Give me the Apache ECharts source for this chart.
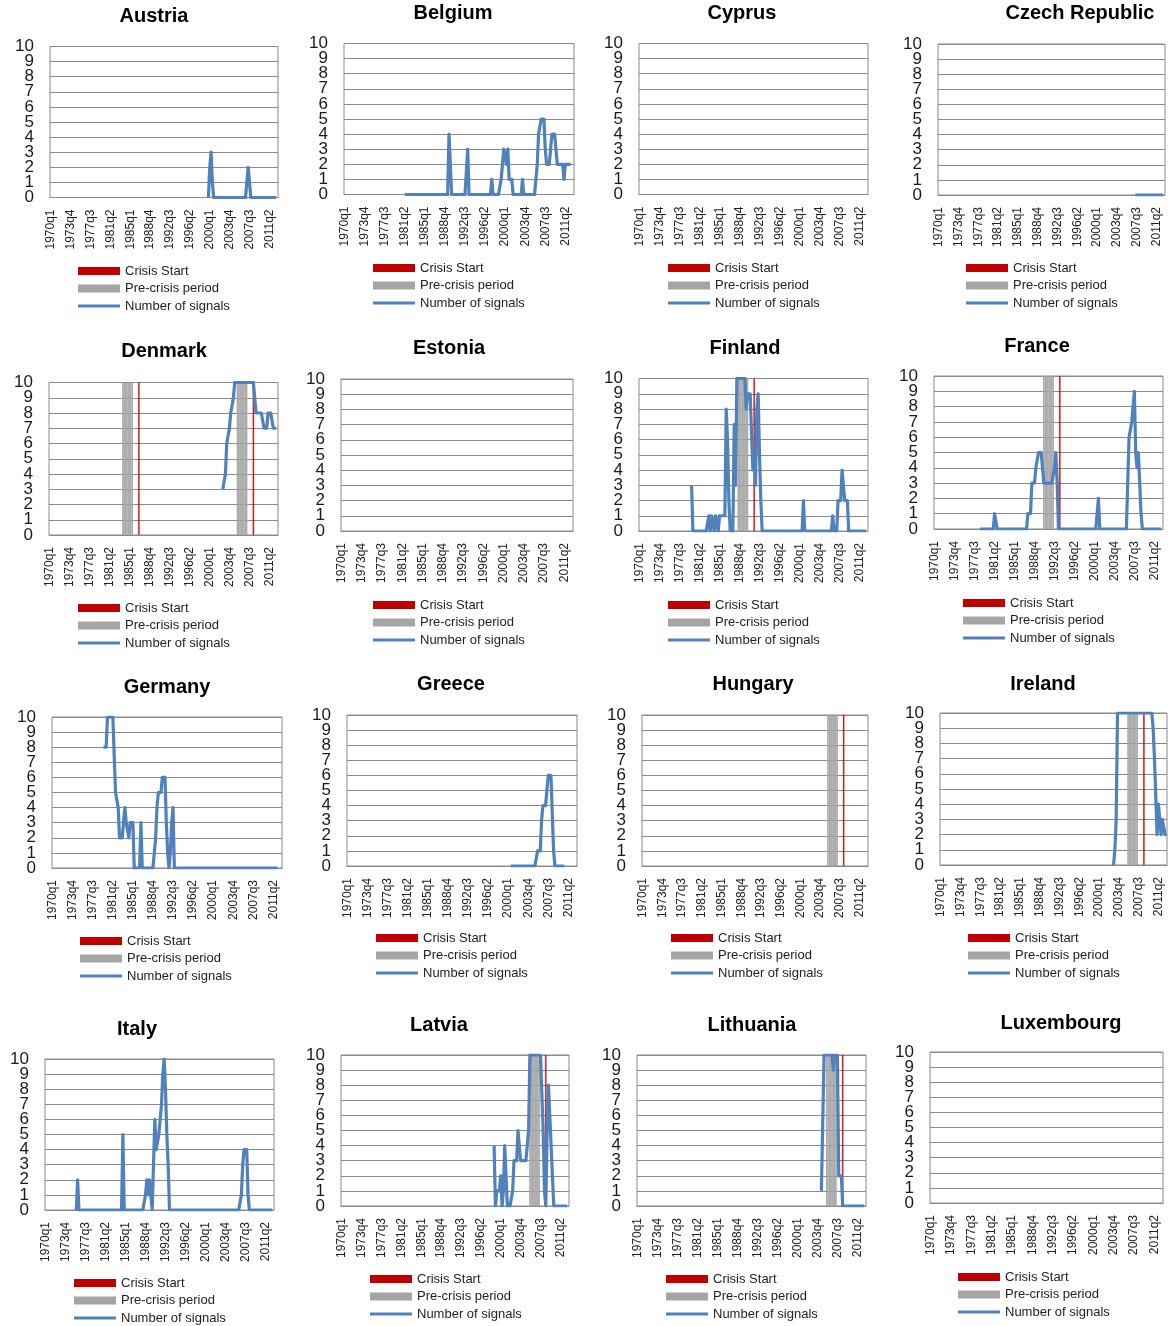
<!DOCTYPE html>
<html><head><meta charset="utf-8">
<script src="https://cdn.jsdelivr.net/npm/echarts@6/dist/echarts.min.js"></script>
<style>html,body{margin:0;padding:0;background:#fff}#c{width:1173px;height:1326px}</style>
</head><body><div id="c"></div>
<script>
// ---------- categories (quarters 1970q1 .. 2012q4) ----------
const years = [];
for (let y = 1970; y <= 2012; y++) years.push(y);
const quarters = [];
years.forEach(y => [1, 2, 3, 4].forEach(q => quarters.push(y + 'q' + q)));

const countries = ['Austria','Belgium','Cyprus','Czech Republic','Denmark','Estonia','Finland','France',
  'Germany','Greece','Hungary','Ireland','Italy','Latvia','Lithuania','Luxembourg'];
const legendNames = ['Crisis Start', 'Pre-crisis period', 'Number of signals'];
const yTicks = [0,1,2,3,4,5,6,7,8,9,10];

// ---------- number of signals (one row per year, starting at <country>Start) ----------
const austriaStart = '1999q1';
const austriaSignals = [
  null,null,null,0, 2,3,1,0, 0,0,0,0, 0,0,0,0, 0,0,0,0, 0,0,0,0, 0,0,0,0, 0,0,0,0,
  0,2,2,0, 0,0,0,0, 0,0,0,0, 0,0,0,0, 0,0,0,0, 0,0,0];
const belgiumStart = '1981q1';
const belgiumSignals = [
  null,0,0,0, 0,0,0,0, 0,0,0,0, 0,0,0,0, 0,0,0,0, 0,0,0,0, 0,0,0,0, 0,0,0,0,
  0,0,4,4, 0,0,0,0, 0,0,0,0, 0,0,0,0, 3,0,0,0, 0,0,0,0, 0,0,0,0, 0,0,0,0,
  0,0,1,0, 0,0,0,0, 0,1,2,3, 3,2,3,1, 1,1,0,0, 0,0,0,0, 0,1,0,0, 0,0,0,0,
  0,0,0,0, 2,4,4,5, 5,5,3,2, 2,2,3,4, 4,4,3,2, 2,2,2,2, 1,2,2,2, 2,2];
const czechStart = '2007q1';
const czechSignals = [
  null,0,0,0, 0,0,0,0, 0,0,0,0, 0,0,0,0, 0,0,0,0, 0,0,0];
const denmarkStart = '2002q1';
const denmarkSignals = [
  null,null,3,3, 4,6,6,7, 8,8,9,10, 10,10,10,10, 10,10,10,10, 10,10,10,10,
  10,10,10,8, 8,8,8,8, 8,7,7,7, 8,8,8,8, 7,7,7];
const finlandStart = '1979q1';
const finlandSignals = [
  null,null,null,3, 0,0,0,0, 0,0,0,0, 0,0,0,0, 1,0,1,1, 0,1,1,0, 1,1,1,1,
  1,8,6,2, 0,0,0,7, 3,10,10,10, 10,10,10,10, 8,9,9,9, 9,4,5,3, 8,9,5,2,
  0,0,0,0, 0,0,0,0, 0,0,0,0, 0,0,0,0, 0,0,0,0, 0,0,0,0, 0,0,0,0,
  0,0,0,2, 0,0,0,0, 0,0,0,0, 0,0,0,0, 0,0,0,0, 0,0,0,0,
  0,1,0,0, 0,2,2,2, 4,4,2,2, 2,0,0,0, 0,0,0,0, 0,0,0,0, 0,0,0];
const franceStart = '1978q1';
const franceSignals = [
  null,null,0,0, 0,0,0,0, 0,0,0,0, 0,1,1,0, 0,0,0,0, 0,0,0,0, 0,0,0,0, 0,0,0,0,
  0,0,0,0, 0,0,1,1, 1,3,3,3, 4,4,5,5, 5,5,3,3, 3,3,3,3, 3,3,4,5, 3,0,0,0,
  0,0,0,0, 0,0,0,0, 0,0,0,0, 0,0,0,0, 0,0,0,0, 0,0,0,0, 0,0,0,2,
  0,0,0,0, 0,0,0,0, 0,0,0,0, 0,0,0,0, 0,0,0,0,
  0,0,6,6, 7,8,9,5, 4,5,5,1, 0,0,0,0, 0,0,0,0, 0,0,0,0, 0,0,0];
const germanyStart = '1979q1';
const germanySignals = [
  null,null,8,8, 8,10,10,10, 10,10,10,5, 5,4,2,2, 2,3,4,3, 3,2,3,3, 3,0,0,0,
  0,0,3,0, 0,0,0,0, 0,0,0,0, 0,2,4,5, 5,5,6,6, 6,3,1,0, 1,3,4,0,
  0,0,0,0, 0,0,0,0, 0,0,0,0, 0,0,0,0, 0,0,0,0, 0,0,0,0, 0,0,0,0,
  0,0,0,0, 0,0,0,0, 0,0,0,0, 0,0,0,0, 0,0,0,0, 0,0,0,0, 0,0,0,0,
  0,0,0,0, 0,0,0,0, 0,0,0,0, 0,0,0,0, 0,0,0,0, 0];
const greeceStart = '2000q1';
const greeceSignals = [
  null,null,0,0, 0,0,0,0, 0,0,0,0, 0,0,0,0, 0,0,0,0, 0,0,1,1,
  1,3,4,4, 4,4,6,6, 6,6,1,0, 0,0,0,0, 0,0,0];
const irelandStart = '2002q1';
const irelandSignals = [
  null,null,null,0, 1,3,10,10, 10,10,10,10, 10,10,10,10, 10,10,10,10, 10,10,10,10,
  10,10,10,10, 10,10,10,10, 10,9,7,7, 2,4,4,2, 3,3,2,2];
const italyStart = '1975q1';
const italySignals = [
  null,null,null,0, 2,0,0,0, 0,0,0,0, 0,0,0,0, 0,0,0,0, 0,0,0,0, 0,0,0,0, 0,0,0,0, 0,0,0,0,
  0,0,5,0, 0,0,0,0, 0,0,0,0, 0,0,0,0, 0,0,0,1, 2,1,2,2, 0,3,6,4, 4,5,5,7, 9,10,8,5, 3,0,0,0,
  0,0,0,0, 0,0,0,0, 0,0,0,0, 0,0,0,0, 0,0,0,0, 0,0,0,0,
  0,0,0,0, 0,0,0,0, 0,0,0,0, 0,0,0,0, 0,0,0,0, 0,0,0,0,
  0,0,0,1, 3,4,4,4, 1,0,0,0, 0,0,0,0, 0,0,0,0, 0,0,0,0, 0,0,0];
const latviaStart = '1998q1';
const latviaSignals = [
  null,null,null,4, 0,1,1,1, 2,0,1,4, 4,0,0,0, 0,1,3,3, 3,5,5,3, 3,3,3,3,
  3,5,10,10, 10,10,10,10, 10,10,10,10, 5,1,0,5, 8,6,4,2, 0,0,0,0, 0,0,0,0, 0,0,0];
const lithuaniaStart = '2004q1';
const lithuaniaSignals = [
  null,null,1,1, 10,10,10,10, 10,10,10,9, 10,10,10,2, 2,2,0,0,
  0,0,0,0, 0,0,0,0, 0,0,0,0, 0,0,0];

// ---------- crisis starts and pre-crisis periods ----------
const denmarkCrisisStart = ['1986q4', '2008q2'];
const denmarkPreCrisis = [['1983q4', '1985q3'], ['2005q2', '2007q1']];
const finlandCrisisStart = ['1991q3'];
const finlandPreCrisis = [['1988q3', '1990q2']];
const franceCrisisStart = ['1993q3'];
const francePreCrisis = [['1990q3', '1992q2']];
const hungaryCrisisStart = ['2008q2'];
const hungaryPreCrisis = [['2005q2', '2007q1']];
const irelandCrisisStart = ['2008q3'];
const irelandPreCrisis = [['2005q3', '2007q2']];
const latviaCrisisStart = ['2008q3'];
const latviaPreCrisis = [['2005q3', '2007q2']];
const lithuaniaCrisisStart = ['2008q3'];
const lithuaniaPreCrisis = [['2005q3', '2007q2']];

const signalsByPanel = [
  [austriaStart, austriaSignals], [belgiumStart, belgiumSignals], null, [czechStart, czechSignals],
  [denmarkStart, denmarkSignals], null, [finlandStart, finlandSignals], [franceStart, franceSignals],
  [germanyStart, germanySignals], [greeceStart, greeceSignals], null, [irelandStart, irelandSignals],
  [italyStart, italySignals], [latviaStart, latviaSignals], [lithuaniaStart, lithuaniaSignals], null];
const crisisByPanel = [
  [], [], [], [], denmarkCrisisStart, [], finlandCrisisStart, franceCrisisStart,
  [], [], hungaryCrisisStart, irelandCrisisStart, [], latviaCrisisStart, lithuaniaCrisisStart, []];
const preByPanel = [
  [], [], [], [], denmarkPreCrisis, [], finlandPreCrisis, francePreCrisis,
  [], [], hungaryPreCrisis, irelandPreCrisis, [], latviaPreCrisis, lithuaniaPreCrisis, []];

// ---------- layout (pixels) ----------
// [titleX, titleY, plotLeft, plotTop, plotRight, plotBottom, legendX, legendFirstRowY]
const layout = [
  [154, 16, 50, 46.5, 278, 197.5, 78, 271],
  [453, 13, 344, 43.5, 574, 194.5, 373, 268],
  [742, 13, 639, 43.5, 868, 194.5, 668, 268],
  [1080, 13, 938, 44, 1165, 195, 966, 268],
  [164, 351, 49, 382.5, 278, 535, 78, 608],
  [449, 348, 341, 379, 573, 531, 373, 605],
  [745, 348, 639, 378.5, 868, 531, 668, 605],
  [1037, 346, 934, 376, 1163, 529, 963, 603],
  [167, 687, 52, 717, 282, 868, 80, 941],
  [451, 684, 347, 715, 577, 866, 376, 938],
  [753, 684, 642, 715, 868, 866, 671, 938],
  [1043, 684, 940, 713, 1167, 865, 968, 938],
  [137, 1029, 45, 1059, 274, 1210, 74, 1283],
  [439, 1025, 341, 1055, 569, 1206, 370, 1279],
  [752, 1025, 637, 1055, 866, 1206, 666, 1279],
  [1061, 1023, 930, 1052, 1163, 1203, 958, 1277]
];

const FONT = 'Liberation Sans';
const qi = q => quarters.indexOf(q);
const yMin = yTicks[0], yMax = yTicks[yTicks.length - 1];
function placeSignals(entry) {
  const arr = quarters.map(() => null);
  if (!entry) return arr;
  const s = qi(entry[0]);
  entry[1].forEach((v, i) => { if (s + i < arr.length) arr[s + i] = v; });
  return arr;
}
function preBars(ranges) {
  const arr = quarters.map(() => null);
  ranges.forEach(r => { for (let i = qi(r[0]); i <= qi(r[1]); i++) arr[i] = yMax; });
  return arr;
}
function crisisBars(list) {
  const arr = quarters.map(() => null);
  list.forEach(q => { arr[qi(q)] = yMax; });
  return arr;
}

const option = {
  animation: false,
  backgroundColor: '#fff',
  textStyle: { fontFamily: FONT },
  title: [], grid: [], xAxis: [], yAxis: [], series: [], legend: []
};

const yLabelStyle = { fontSize: 17, margin: 16, color: '#1a1a1a', fontFamily: FONT, hideOverlap: false };

countries.forEach((name, i) => {
  const L = layout[i];
  option.title.push({
    text: name, left: L[0], top: L[1], textAlign: 'center', textVerticalAlign: 'middle', padding: 0,
    textStyle: { fontFamily: FONT, fontSize: 20, fontWeight: 'bold', color: '#000' }
  });
  option.grid.push({
    left: L[2], top: L[3], width: L[4] - L[2], height: L[5] - L[3],
    show: true, borderColor: '#8a8a8a', borderWidth: 1, backgroundColor: 'transparent'
  });
  option.xAxis.push({
    gridIndex: i, type: 'category', data: quarters, boundaryGap: true,
    axisTick: { show: false },
    axisLine: { lineStyle: { color: '#8a8a8a', width: 1 } },
    axisLabel: { interval: 14, rotate: 90, fontSize: 12, margin: 12, color: '#222', fontFamily: FONT },
    splitLine: { show: false }
  });
  // axis A: grid lines + even tick labels
  option.yAxis.push({
    gridIndex: i, type: 'value', min: yMin, max: yMax, interval: 1, position: 'left',
    axisLine: { show: false }, axisTick: { show: false },
    axisLabel: Object.assign({}, yLabelStyle, {
      showMinLabel: true, showMaxLabel: true,
      formatter: v => (yTicks.indexOf(v) % 2 === 0 ? String(v) : '')
    }),
    splitLine: { lineStyle: { color: '#8a8a8a', width: 1 } }
  });
  // axis B: odd tick labels (same scale, same place)
  option.yAxis.push({
    gridIndex: i, type: 'value', min: yMin, max: yMax, interval: 1, position: 'left', offset: 0,
    axisLine: { show: false }, axisTick: { show: false }, splitLine: { show: false },
    axisLabel: Object.assign({}, yLabelStyle, {
      showMinLabel: false, showMaxLabel: false,
      formatter: v => (yTicks.indexOf(v) % 2 === 1 ? String(v) : '')
    })
  });
  const yIdx = 2 * i;
  option.series.push({
    name: legendNames[1], type: 'bar', xAxisIndex: i, yAxisIndex: yIdx,
    data: preBars(preByPanel[i]), color: '#A5A5A5',
    itemStyle: { color: '#A5A5A5', borderColor: '#A5A5A5', borderWidth: 0.7 },
    barCategoryGap: '0%', barGap: '-100%', z: 1, silent: true
  });
  option.series.push({
    name: legendNames[0], type: 'bar', xAxisIndex: i, yAxisIndex: yIdx,
    data: crisisBars(crisisByPanel[i]), color: '#C00000',
    itemStyle: { color: '#C00000', borderColor: '#C00000', borderWidth: 0.4 },
    barCategoryGap: '0%', barGap: '-100%', z: 2, silent: true
  });
  option.series.push({
    name: legendNames[2], type: 'line', xAxisIndex: i, yAxisIndex: yIdx,
    data: placeSignals(signalsByPanel[i]), color: '#4F81BD',
    symbol: 'none', connectNulls: false, z: 3, silent: true,
    lineStyle: { color: '#4F81BD', width: 3.2, join: 'round' }
  });
  option.legend.push({
    orient: 'vertical', left: L[6], top: L[7] - 6.5, padding: 0,
    itemWidth: 42, itemHeight: 8, itemGap: 4.5, selectedMode: false,
    itemStyle: { borderWidth: 0 },
    textStyle: { fontSize: 13, lineHeight: 13, color: '#222', fontFamily: FONT },
    data: [
      { name: legendNames[0], icon: 'rect' },
      { name: legendNames[1], icon: 'rect' },
      { name: legendNames[2], icon: 'path://M0,0L14,0L14,1L0,1Z' }
    ]
  });
});

const chart = echarts.init(document.getElementById('c'), null, { renderer: 'canvas' });
chart.setOption(option);
</script>
</body></html>
